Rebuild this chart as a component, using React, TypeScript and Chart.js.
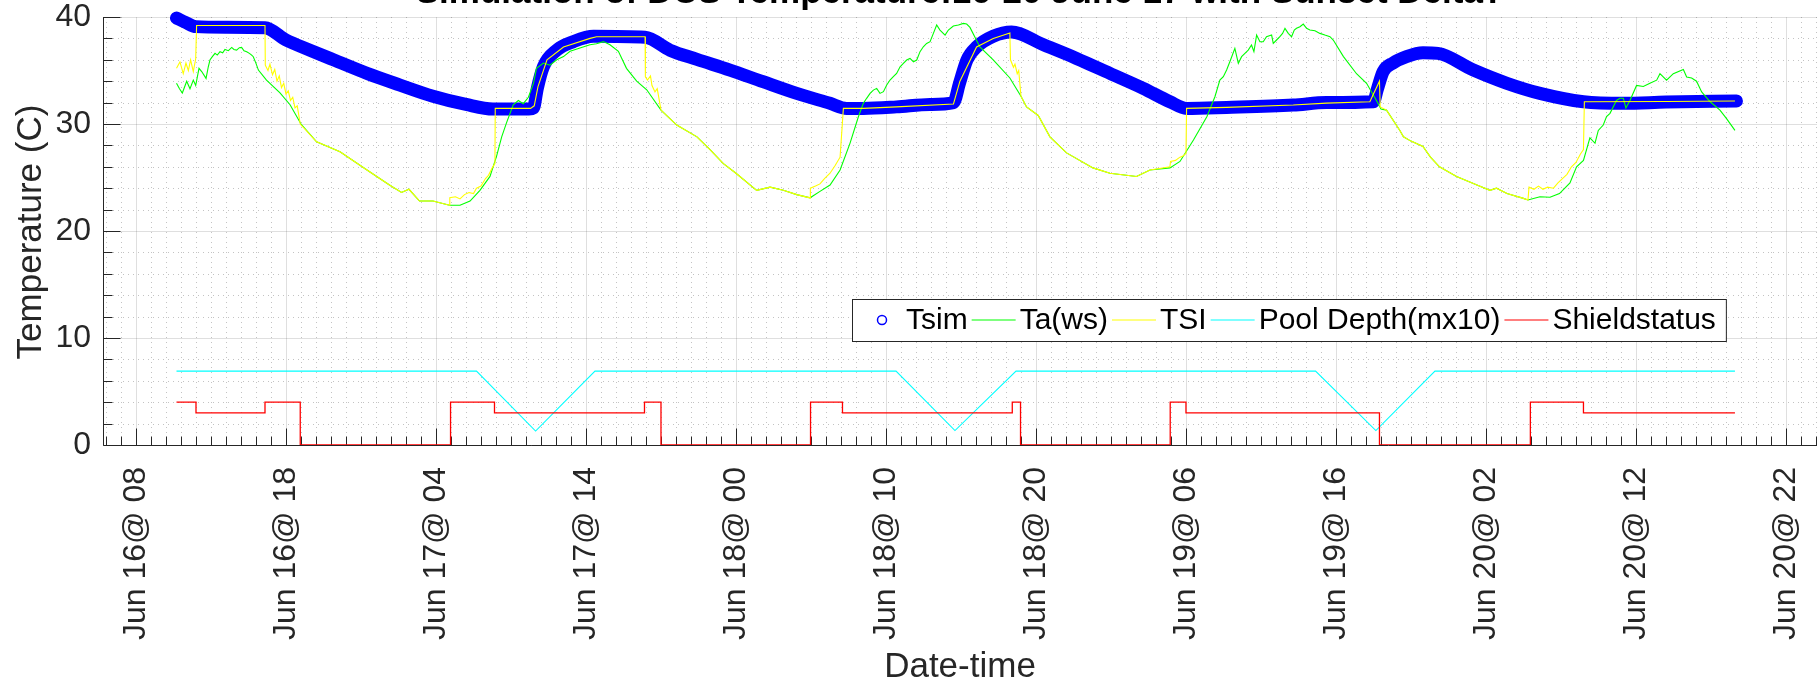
import React, { useEffect, useRef } from "react";
import { Chart, registerables } from "chart.js";

Chart.register(...registerables);

const W = 1817;
const H = 684;
const FONT = '"Liberation Sans", Arial, Helvetica, sans-serif';

const TITLE = "Simulation of DCS Temperature:16-20 June 17 with Sunset Delta?";
const X_LABEL = "Date-time";
const Y_LABEL = "Temperature (C)";
const SERIES_LABELS = ["Tsim", "Ta(ws)", "TSI", "Pool Depth(mx10)", "Shieldstatus"];

// x axis in hours since Jun 16 00:00
const X_MIN = 5.8;
const X_MAX = 120.07;
const X_MAJOR_TICKS = [8, 18, 28, 38, 48, 58, 68, 78, 88, 98, 108, 118];
const X_MINOR_STEP = 1;
const Y_MIN = 0;
const Y_MAX = 40;
const Y_MAJOR_STEP = 10;
const Y_MINOR_STEP = 2;

const TSIM_HOURS = [10.7, 11.3, 12.0, 14.0, 16.6, 18.0, 19.6, 21.2, 23.4, 25.6, 27.8, 30.0, 31.8, 34.2, 34.5, 34.75, 35.16, 36.05, 37.16, 38.5, 41.94, 43.6, 45.4, 47.6, 49.8, 52.05, 54.27, 55.38, 56.5, 58.7, 60.94, 62.5, 62.9, 63.4, 64.04, 65.15, 66.37, 68.5, 70.7, 72.93, 75.15, 76.93, 78.04, 80.7, 85.15, 87.37, 90.5, 90.75, 91.15, 91.8, 92.7, 93.8, 94.8, 97.16, 99.4, 101.6, 104.5, 107.2, 110.0, 114.7];
const TSIM_TEMP = [39.9, 39.5, 39.1, 39.05, 39.0, 37.85, 36.9, 35.98, 34.73, 33.64, 32.6, 31.83, 31.4, 31.4, 31.5, 33.3, 35.35, 36.9, 37.7, 38.2, 38.1, 36.9, 36.04, 35.04, 33.95, 32.86, 31.93, 31.46, 31.46, 31.6, 31.83, 32.0, 33.8, 36.0, 37.2, 38.2, 38.6, 37.4, 36.13, 34.73, 33.33, 32.08, 31.46, 31.55, 31.77, 32.0, 32.08, 33.2, 34.9, 35.7, 36.3, 36.66, 36.6, 35.04, 33.8, 32.86, 32.08, 31.93, 32.05, 32.15];

const TA_HOURS = [10.7, 10.9, 11.09, 11.38, 11.6, 11.82, 11.98, 12.2, 12.38, 12.67, 12.82, 12.93, 13.09, 13.27, 13.42, 13.6, 13.78, 13.93, 14.16, 14.38, 14.53, 14.71, 14.89, 15.04, 15.2, 15.38, 15.56, 15.71, 15.82, 16.0, 16.16, 16.7, 17.6, 18.27, 19.0, 20.04, 21.6, 23.4, 24.9, 25.7, 26.2, 26.9, 27.8, 28.9, 29.6, 30.27, 30.93, 31.6, 32.04, 32.38, 32.7, 33.15, 33.49, 33.82, 34.16, 34.5, 34.7, 35.16, 35.6, 36.05, 36.5, 36.94, 37.6, 38.27, 38.7, 39.16, 39.6, 40.16, 40.7, 41.38, 42.05, 43.0, 44.05, 45.4, 46.27, 47.16, 48.0, 49.38, 50.27, 51.16, 52.05, 52.94, 53.6, 54.27, 54.94, 55.6, 56.16, 56.49, 56.71, 56.94, 57.16, 57.38, 57.6, 57.83, 58.05, 58.27, 58.49, 58.71, 58.94, 59.16, 59.38, 59.6, 59.83, 60.05, 60.27, 60.49, 60.71, 60.94, 61.16, 61.38, 61.6, 61.94, 62.16, 62.49, 62.83, 63.16, 63.38, 63.6, 64.26, 65.15, 66.26, 67.0, 67.37, 68.15, 68.93, 70.04, 71.8, 72.93, 74.7, 75.6, 76.93, 77.6, 78.5, 79.4, 79.93, 80.26, 80.49, 80.71, 80.97, 81.26, 81.49, 81.71, 81.93, 82.15, 82.37, 82.53, 82.71, 82.93, 83.15, 83.37, 83.71, 83.82, 84.04, 84.26, 84.44, 84.6, 84.82, 85.04, 85.22, 85.37, 85.6, 85.82, 86.04, 86.26, 86.6, 86.93, 87.26, 87.6, 87.82, 88.5, 89.37, 90.04, 90.7, 91.0, 91.37, 92.26, 92.5, 93.0, 93.8, 94.3, 94.9, 96.04, 97.4, 98.27, 98.7, 99.4, 100.5, 100.8, 101.6, 102.27, 102.9, 103.6, 104.04, 104.5, 104.93, 105.27, 105.49, 105.82, 106.04, 106.27, 106.7, 106.93, 107.16, 107.33, 107.6, 108.04, 108.49, 108.93, 109.38, 109.6, 110.04, 110.49, 111.16, 111.38, 111.71, 112.04, 112.38, 112.93, 113.6, 114.04, 114.6];
const TA_TEMP = [33.8, 33.3, 32.9, 34.0, 33.3, 34.1, 33.6, 35.2, 34.9, 34.26, 35.35, 35.98, 36.29, 36.6, 36.44, 36.76, 36.66, 36.97, 36.85, 37.16, 36.97, 36.91, 37.13, 37.16, 36.85, 36.76, 36.6, 36.44, 36.29, 35.67, 35.04, 34.1, 32.9, 31.8, 30.0, 28.34, 27.4, 25.7, 24.3, 23.6, 23.9, 22.8, 22.8, 22.4, 22.4, 22.8, 23.8, 25.1, 27.0, 28.8, 30.1, 31.8, 32.2, 31.9, 32.5, 33.8, 35.2, 35.7, 35.5, 36.0, 36.3, 36.8, 37.1, 37.4, 37.5, 37.7, 37.4, 36.8, 35.2, 34.0, 33.2, 31.3, 29.9, 28.8, 27.6, 26.3, 25.4, 23.8, 24.1, 23.8, 23.4, 23.1, 23.7, 24.3, 25.7, 28.19, 30.68, 31.93, 32.4, 32.86, 33.17, 33.33, 32.86, 33.02, 33.64, 34.11, 34.42, 34.73, 35.35, 35.67, 35.98, 36.13, 35.82, 35.98, 36.76, 37.22, 37.53, 37.69, 38.47, 39.25, 38.78, 38.31, 38.78, 39.16, 39.25, 39.4, 39.34, 39.03, 37.2, 36.0, 34.3, 32.6, 31.6, 30.8, 28.8, 27.3, 25.9, 25.4, 25.1, 25.7, 25.9, 26.5, 28.5, 30.7, 32.55, 34.11, 34.42, 35.04, 35.98, 37.07, 35.67, 36.29, 36.6, 36.91, 37.38, 36.76, 38.31, 37.69, 37.69, 38.16, 38.31, 37.53, 37.85, 38.16, 38.47, 38.94, 38.47, 38.16, 38.78, 38.94, 39.09, 39.34, 38.94, 38.78, 38.72, 38.47, 38.31, 38.16, 37.85, 36.3, 34.7, 33.8, 32.2, 31.4, 31.3, 29.4, 28.8, 28.4, 27.9, 26.9, 26.0, 25.1, 24.3, 23.8, 24.0, 23.5, 23.05, 22.9, 23.2, 23.15, 23.5, 24.5, 26.0, 26.6, 28.7, 28.2, 29.4, 29.9, 30.7, 31.0, 32.2, 32.4, 32.4, 31.5, 32.2, 33.6, 33.5, 33.8, 34.1, 34.7, 34.1, 34.7, 35.1, 34.4, 34.3, 34.0, 33.0, 32.1, 31.3, 30.5, 29.4];

const TSI_HOURS = [10.7, 10.93, 11.15, 11.33, 11.49, 11.64, 11.82, 11.98, 12.04, 16.6, 16.62, 16.8, 16.93, 17.1, 17.25, 17.4, 17.55, 17.7, 17.85, 18.0, 18.15, 18.3, 18.45, 18.6, 18.75, 18.95, 20.04, 21.6, 23.4, 24.9, 25.7, 26.2, 26.9, 27.8, 28.9, 28.92, 29.3, 29.6, 29.9, 30.2, 30.5, 30.7, 31.0, 31.3, 31.5, 31.75, 31.93, 31.95, 34.3, 34.55, 34.8, 35.4, 36.5, 38.27, 38.7, 41.94, 41.96, 42.1, 42.3, 42.4, 42.6, 42.75, 43.0, 44.05, 45.4, 46.27, 47.16, 48.0, 49.38, 50.27, 51.16, 52.05, 52.94, 52.96, 53.3, 53.6, 53.9, 54.27, 54.6, 54.94, 55.16, 56.5, 58.7, 62.5, 62.93, 64.04, 65.15, 66.26, 66.3, 66.5, 66.6, 66.75, 66.85, 67.0, 67.37, 68.15, 68.93, 70.04, 71.8, 72.93, 74.7, 75.6, 76.93, 76.97, 77.3, 77.6, 77.8, 78.0, 78.04, 80.7, 85.15, 87.37, 90.26, 90.9, 90.95, 91.37, 92.26, 92.5, 93.0, 93.8, 94.3, 94.9, 96.04, 97.4, 98.27, 98.7, 99.4, 100.5, 100.8, 100.87, 101.2, 101.5, 101.8, 102.1, 102.5, 102.8, 103.1, 103.4, 103.7, 104.0, 104.3, 104.5, 104.56, 110.0, 114.6];
const TSI_TEMP = [35.2, 35.8, 34.7, 35.7, 35.0, 36.0, 34.9, 36.1, 39.2, 39.2, 35.5, 35.0, 35.6, 34.6, 35.1, 34.0, 34.5, 33.4, 33.8, 32.8, 33.1, 32.2, 32.5, 31.5, 31.7, 30.0, 28.34, 27.4, 25.7, 24.3, 23.6, 23.9, 22.8, 22.8, 22.4, 23.1, 23.2, 23.0, 23.4, 23.6, 23.5, 24.0, 24.2, 24.9, 25.2, 25.9, 26.3, 31.46, 31.46, 31.7, 33.5, 36.0, 37.2, 38.0, 38.16, 38.16, 34.4, 34.1, 34.5, 33.6, 33.0, 33.3, 31.3, 29.9, 28.8, 27.6, 26.3, 25.4, 23.8, 24.1, 23.8, 23.4, 23.1, 24.0, 24.2, 24.4, 24.9, 25.4, 26.1, 26.9, 31.46, 31.46, 31.6, 31.87, 34.0, 37.2, 38.0, 38.5, 36.0, 35.3, 35.6, 34.7, 35.0, 32.6, 31.6, 30.8, 28.8, 27.3, 25.9, 25.4, 25.1, 25.7, 26.0, 26.5, 26.6, 26.9, 27.0, 27.25, 31.46, 31.55, 31.77, 31.95, 32.08, 34.0, 31.6, 31.3, 29.4, 28.8, 28.4, 27.9, 26.9, 26.0, 25.1, 24.3, 23.8, 24.0, 23.5, 23.05, 22.9, 24.1, 23.9, 24.2, 23.9, 24.1, 24.0, 24.5, 24.9, 25.3, 26.0, 26.4, 27.2, 27.6, 32.08, 32.1, 32.15];

const POOL_HOURS = [10.7, 30.7, 34.64, 38.6, 58.67, 62.6, 66.67, 86.64, 90.66, 94.6, 114.6];
const POOL_DEPTH = [6.9, 6.9, 1.3, 6.9, 6.9, 1.35, 6.9, 6.9, 1.35, 6.9, 6.9];

const SHIELD_HOURS = [10.7, 12.0, 16.6, 18.95, 28.97, 31.9, 41.9, 43.0, 52.97, 55.1, 66.42, 66.97, 76.95, 78.0, 90.9, 100.96, 104.5, 114.6];
const SHIELD_STATUS = [4, 3, 4, 0, 4, 3, 4, 0, 4, 3, 4, 0, 4, 3, 0, 4, 3, 3];

const COLORS = ["#0000ff", "#00ff00", "#ffff00", "#00ffff", "#ff0000"];

const pairs = (xs: number[], ys: number[]) => xs.map((x, i) => ({ x, y: ys[i] }));

const tickLabel = (h: number) => {
  const day = 16 + Math.floor(h / 24);
  const hr = Math.round(h % 24);
  return `Jun ${day}@ ${String(hr).padStart(2, "0")}`;
};

const AXIS_COLOR = "#262626";

const gridPlugin = {
  id: "matlabGrid",
  beforeDatasetsDraw(chart: any) {
    const { ctx, chartArea: a, scales } = chart;
    const x = scales.x;
    const y = scales.y;
    ctx.save();
    ctx.beginPath();
    ctx.rect(a.left, a.top - 1, a.right - a.left, a.bottom - a.top + 2);
    ctx.clip();
    ctx.lineWidth = 1;
    ctx.strokeStyle = "rgba(38,38,38,0.28)";
    ctx.setLineDash([1, 4]);
    for (let h = Math.ceil(X_MIN); h <= X_MAX; h += X_MINOR_STEP) {
      if (X_MAJOR_TICKS.includes(h)) continue;
      const px = Math.round(x.getPixelForValue(h)) + 0.5;
      ctx.beginPath();
      ctx.moveTo(px, a.top);
      ctx.lineTo(px, a.bottom);
      ctx.stroke();
    }
    for (let v = Y_MIN; v <= Y_MAX; v += Y_MINOR_STEP) {
      if (v % Y_MAJOR_STEP === 0) continue;
      const py = Math.round(y.getPixelForValue(v)) + 0.5;
      ctx.beginPath();
      ctx.moveTo(a.left, py);
      ctx.lineTo(a.right, py);
      ctx.stroke();
    }
    ctx.setLineDash([]);
    ctx.strokeStyle = "rgba(38,38,38,0.15)";
    for (const h of X_MAJOR_TICKS) {
      const px = Math.round(x.getPixelForValue(h)) + 0.5;
      ctx.beginPath();
      ctx.moveTo(px, a.top);
      ctx.lineTo(px, a.bottom);
      ctx.stroke();
    }
    for (let v = Y_MIN; v <= Y_MAX; v += Y_MAJOR_STEP) {
      const py = Math.round(y.getPixelForValue(v)) + 0.5;
      ctx.beginPath();
      ctx.moveTo(a.left, py);
      ctx.lineTo(a.right, py);
      ctx.stroke();
    }
    ctx.restore();

    ctx.save();
    ctx.strokeStyle = AXIS_COLOR;
    ctx.lineWidth = 1;
    const left = Math.round(a.left) + 0.5;
    const bottom = Math.round(a.bottom) + 0.5;
    ctx.beginPath();
    ctx.moveTo(left, a.top);
    ctx.lineTo(left, bottom);
    ctx.lineTo(a.right, bottom);
    ctx.stroke();
    for (let h = Math.ceil(X_MIN); h <= X_MAX; h += X_MINOR_STEP) {
      const major = X_MAJOR_TICKS.includes(h);
      const px = Math.round(x.getPixelForValue(h)) + 0.5;
      ctx.beginPath();
      ctx.moveTo(px, bottom);
      ctx.lineTo(px, bottom - (major ? 17 : 9));
      ctx.stroke();
    }
    for (let v = Y_MIN; v <= Y_MAX; v += Y_MINOR_STEP) {
      const major = v % Y_MAJOR_STEP === 0;
      const py = Math.round(y.getPixelForValue(v)) + 0.5;
      ctx.beginPath();
      ctx.moveTo(left, py);
      ctx.lineTo(left + (major ? 17 : 9), py);
      ctx.stroke();
    }
    ctx.restore();
  },
};

const textPlugin = {
  id: "matlabText",
  afterDraw(chart: any) {
    const { ctx, chartArea: a, scales } = chart;
    const x = scales.x;
    ctx.save();
    ctx.fillStyle = AXIS_COLOR;
    ctx.font = `32px ${FONT}`;
    ctx.textAlign = "right";
    ctx.textBaseline = "middle";
    for (const h of X_MAJOR_TICKS) {
      const px = x.getPixelForValue(h);
      ctx.save();
      ctx.translate(px, a.bottom + 22);
      ctx.rotate(-Math.PI / 2);
      ctx.fillText(tickLabel(h), 0, 0);
      ctx.restore();
    }
    ctx.font = `35px ${FONT}`;
    ctx.textAlign = "center";
    ctx.textBaseline = "middle";
    ctx.fillText(X_LABEL, (a.left + a.right) / 2, 667);
    ctx.save();
    ctx.translate(31, 232);
    ctx.rotate(-Math.PI / 2);
    ctx.fillText(Y_LABEL, 0, 0);
    ctx.restore();
    ctx.fillStyle = "#000";
    ctx.font = `bold 35px ${FONT}`;
    ctx.textBaseline = "alphabetic";
    ctx.fillText(TITLE, (a.left + a.right) / 2, 3);

    // legend
    const bx = 852;
    const by = 299;
    const bh = 42;
    const cy = by + bh / 2;
    const token = 44;
    ctx.font = `30px ${FONT}`;
    const labels: string[] = chart.data.datasets.map((d: any) => d.label);
    let total = 6;
    labels.forEach((l) => {
      total += token + 4 + ctx.measureText(l).width + 4;
    });
    total += 6;
    ctx.fillStyle = "#fff";
    ctx.fillRect(bx, by, total, bh);
    ctx.strokeStyle = AXIS_COLOR;
    ctx.lineWidth = 1;
    ctx.strokeRect(bx + 0.5, by + 0.5, total, bh);
    let cx = bx + 6;
    ctx.textAlign = "left";
    ctx.textBaseline = "middle";
    labels.forEach((l, i) => {
      const ds = chart.data.datasets[i];
      ctx.strokeStyle = ds.borderColor;
      if (i === 0) {
        ctx.lineWidth = 1.5;
        ctx.beginPath();
        ctx.arc(cx + token / 2 + 2, cy, 4.5, 0, Math.PI * 2);
        ctx.stroke();
      } else {
        ctx.lineWidth = 1.2;
        ctx.beginPath();
        ctx.moveTo(cx, cy);
        ctx.lineTo(cx + token, cy);
        ctx.stroke();
      }
      cx += token + 4;
      ctx.fillStyle = "#000";
      ctx.fillText(l, cx, cy + 1);
      cx += ctx.measureText(l).width + 4;
    });
    ctx.restore();
  },
};

export default function App() {
  const ref = useRef<HTMLCanvasElement | null>(null);
  useEffect(() => {
    if (!ref.current) return;
    const chart = new Chart(ref.current, {
      type: "line",
      data: {
        datasets: [
          {
            label: SERIES_LABELS[0],
            data: pairs(TSIM_HOURS, TSIM_TEMP),
            borderColor: COLORS[0],
            borderWidth: 13,
            borderCapStyle: "round",
            borderJoinStyle: "round",
            cubicInterpolationMode: "monotone",
            pointRadius: 0,
            clip: false,
            order: 5,
          },
          {
            label: SERIES_LABELS[1],
            data: pairs(TA_HOURS, TA_TEMP),
            borderColor: COLORS[1],
            borderWidth: 1.1,
            pointRadius: 0,
            order: 4,
          },
          {
            label: SERIES_LABELS[2],
            data: pairs(TSI_HOURS, TSI_TEMP),
            borderColor: COLORS[2],
            borderWidth: 1.1,
            pointRadius: 0,
            order: 3,
          },
          {
            label: SERIES_LABELS[3],
            data: pairs(POOL_HOURS, POOL_DEPTH),
            borderColor: COLORS[3],
            borderWidth: 1.1,
            pointRadius: 0,
            order: 2,
          },
          {
            label: SERIES_LABELS[4],
            data: pairs(SHIELD_HOURS, SHIELD_STATUS),
            borderColor: COLORS[4],
            borderWidth: 1.3,
            stepped: "before",
            pointRadius: 0,
            order: 1,
          },
        ] as any,
      },
      options: {
        animation: false,
        responsive: false,
        devicePixelRatio: 1,
        layout: { padding: { top: 17, left: 0, right: 0, bottom: 0 } },
        plugins: { legend: { display: false }, title: { display: false }, tooltip: { enabled: false } },
        scales: {
          x: {
            type: "linear",
            min: X_MIN,
            max: X_MAX,
            grid: { display: false, drawTicks: false },
            border: { display: false },
            ticks: { display: false },
            afterFit: (s: any) => {
              s.height = H - 445;
              s.paddingLeft = 0;
              s.paddingRight = 0;
            },
          },
          y: {
            min: Y_MIN,
            max: Y_MAX,
            grid: { display: false, drawTicks: false },
            border: { display: false },
            ticks: { stepSize: Y_MAJOR_STEP, color: AXIS_COLOR, padding: 12, font: { family: FONT, size: 32 } },
            afterFit: (s: any) => {
              s.width = 103;
              s.paddingTop = 0;
              s.paddingBottom = 0;
            },
          },
        },
      } as any,
      plugins: [gridPlugin, textPlugin],
    });
    return () => chart.destroy();
  }, []);
  return (
    <div style={{ position: "fixed", left: 0, top: 0, width: W, height: H, background: "#fff" }}>
      <canvas ref={ref} width={W} height={H} style={{ width: W, height: H, display: "block" }} />
    </div>
  );
}
